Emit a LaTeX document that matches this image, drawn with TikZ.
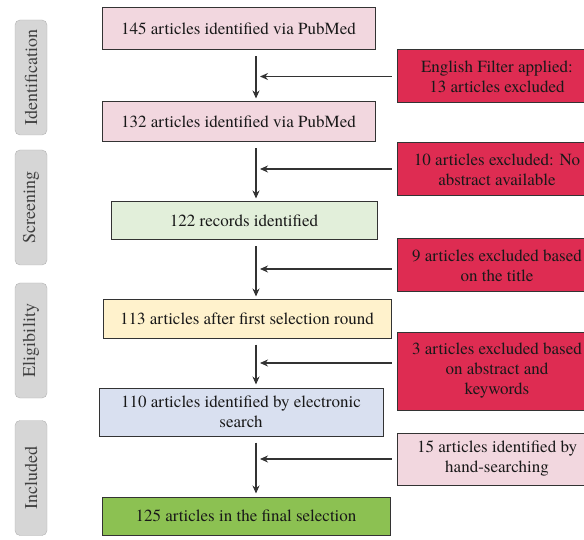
\documentclass[tikz,border=0pt]{standalone}
\usepackage{fontspec}
\setmainfont{TeX Gyre Termes}
\newfontfamily\timesfont{TeX Gyre Termes}
\usetikzlibrary{arrows.meta}

\definecolor{pinkbox}{HTML}{F2D7DF}
\definecolor{redbox}{HTML}{DE2C52}
\definecolor{mintbox}{HTML}{E2EFDA}
\definecolor{creambox}{HTML}{FFF2CC}
\definecolor{bluebox}{HTML}{D9E0F0}
\definecolor{greenbox}{HTML}{8CC152}
\definecolor{stagegray}{HTML}{D6D6D6}

\tikzset{
  flowbox/.style={draw=black!80, line width=1pt, inner sep=2pt, align=center,
    text=black!90, font=\timesfont\fontsize{17}{20}\selectfont},
  sidebox/.style={flowbox, minimum width=200pt, fill=redbox},
  stagebox/.style={draw=black!30, fill=stagegray, rounded corners=5pt, rotate=90,
    minimum width=115pt, minimum height=32pt, text=black!75,
    font=\timesfont\fontsize{18}{20}\selectfont},
  flowarrow/.style={line width=1.1pt, black!80, -{Stealth[length=8pt,width=7pt]}}
}

\begin{document}
\begin{tikzpicture}[x=1pt,y=-1pt]
    \useasboundingbox (0,0) rectangle (584,540);
    \clip (0,0) rectangle (584,540);

    % stages
    \node[stagebox] (sId) at (31,77.5) {Identification};
    \node[stagebox] (sSc) at (31,207.5) {Screening};
    \node[stagebox] (sEl) at (31,340.5) {Eligibility};
    \node[stagebox] (sIn) at (31,478) {Included};

    % main flow
    \node[flowbox, fill=pinkbox, minimum width=273pt, minimum height=42pt] (b1) at (238.5,29) {145 articles identified via PubMed};
    \node[flowbox, fill=pinkbox, minimum width=273pt, minimum height=40pt] (b2) at (238.5,122) {132 articles identified via PubMed};
    \node[flowbox, fill=mintbox, minimum width=266pt, minimum height=38pt] (b3) at (244,221) {122 records identified};
    \node[flowbox, fill=creambox, minimum width=288pt, minimum height=38pt] (b4) at (247,319) {113 articles after first selection round};
    \node[flowbox, fill=bluebox, minimum width=284pt, minimum height=48pt] (b5) at (241,412) {110 articles identified by electronic\\search};
    \node[flowbox, fill=greenbox, minimum width=288pt, minimum height=38pt] (b6) at (246,516) {125 articles in the final selection};

    % side boxes
    \node[sidebox, minimum height=53pt] (r1) at (497,76.5) {English Filter applied:\\13 articles excluded};
    \node[sidebox, minimum height=53pt] (r2) at (497,169.5) {10 articles excluded: No\\abstract available};
    \node[sidebox, minimum height=53pt] (r3) at (497,265.5) {9 articles excluded based\\on the title};
    \node[sidebox, minimum height=78pt] (r4) at (497,371) {3 articles excluded based\\on abstract and\\keywords};
    \node[sidebox, fill=pinkbox, minimum height=52pt] (r5) at (497,459) {15 articles identified by\\hand-searching};

    \coordinate (axis) at (256,0);

    % arrows
    \foreach \a/\b/\r/\dy in {b1/b2/r1/0, b2/b3/r2/-0.5, b3/b4/r3/3.5, b4/b5/r4/-8, b5/b6/r5/0} {
      \draw[flowarrow] ([yshift=-6pt]\a.south -| axis) -- ([yshift=3pt]\b.north -| axis);
      \draw[flowarrow, shorten >=4pt] ([xshift=-5pt,yshift=-\dy pt]\r.west) -- ([yshift=-\dy pt]\r.west -| axis);
    }

\end{tikzpicture}
\end{document}
